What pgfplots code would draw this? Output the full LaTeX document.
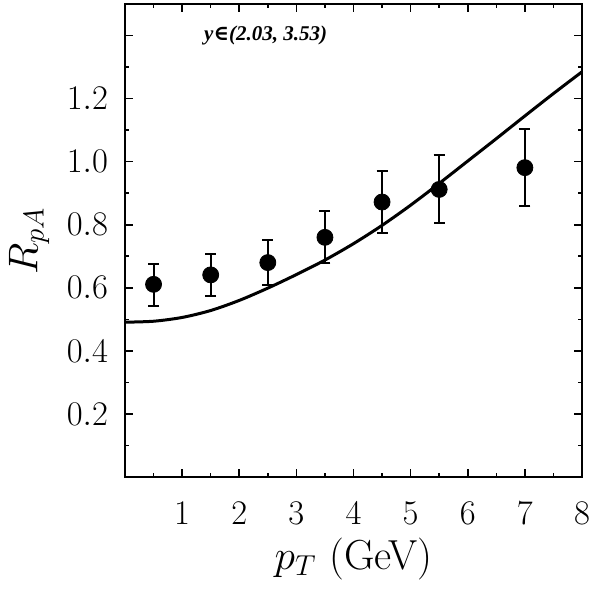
\documentclass[border=0pt]{standalone}
\usepackage{fontspec}
\usepackage{pgfplots}
\usepackage{pgfplotstable}
\pgfplotsset{compat=1.18}
\newfontfamily\annfont{Liberation Serif}
\newfontfamily\symfont{DejaVu Serif}

\pgfplotstableread{
x y ep em
0.5 0.611 0.066 0.068
1.5 0.641 0.067 0.068
2.5 0.680 0.072 0.072
3.5 0.760 0.085 0.082
4.5 0.872 0.097 0.097
5.5 0.912 0.108 0.107
7.0 0.981 0.123 0.121
}\datatable

\pgfplotstableread{
x y
0.0 0.491
0.5 0.494
1.0 0.506
1.5 0.528
2.0 0.560
2.5 0.599
3.0 0.642
3.5 0.688
4.0 0.740
4.5 0.798
5.0 0.862
5.5 0.931
6.0 1.002
6.5 1.073
7.0 1.145
7.5 1.216
8.0 1.285
}\curvetable

\begin{document}
\begin{tikzpicture}
\begin{axis}[
  name=ax,
  scale only axis,
  width=228.5pt, height=236.5pt,
  xmin=0, xmax=8, ymin=0, ymax=1.5,
  axis line style={line width=1pt},
  tick style={line width=0.8pt, black},
  tick align=inside,
  major tick length=4pt,
  minor tick length=2pt,
  xtick={1,2,3,4,5,6,7,8},
  minor xtick={0.5,1.5,2.5,3.5,4.5,5.5,6.5,7.5},
  ytick={0.2,0.4,0.6,0.8,1.0,1.2,1.4},
  yticklabels={$0.2$,$0.4$,$0.6$,$0.8$,$1.0$,$1.2$,},
  minor ytick={0.1,0.3,0.5,0.7,0.9,1.1,1.3},
  xticklabel style={font=\fontsize{16}{18}\selectfont, yshift=-9pt},
  yticklabel style={font=\fontsize{16}{18}\selectfont, xshift=-5pt},
  xlabel={$p_T$ (GeV)},
  ylabel={$R_{pA}$},
  label style={font=\fontsize{21}{24}\selectfont},
  xlabel style={yshift=0pt},
  ylabel style={yshift=2pt},
  clip=false,
]
\addplot[black, line width=1.5pt, smooth, tension=0.5] table[x=x, y=y] {\curvetable};
\addplot[only marks, mark=*, mark size=4pt, black,
  error bars/.cd, y dir=both, y explicit,
  error bar style={line width=1pt, black},
  error mark options={rotate=90, mark size=2.75pt, line width=1pt, black}]
  table[x=x, y=y, y error plus=ep, y error minus=em] {\datatable};
\node[anchor=west, inner sep=0pt, font=\annfont\bfseries\itshape\fontsize{10.5}{12}\selectfont]
  at (axis cs:1.38,1.40) {y{\symfont\bfseries\itshape ∈}(2.03, 3.53)};
\end{axis}
\pgfresetboundingbox
\path ([shift={(-62.5pt,-59pt)}]ax.south west) rectangle ([shift={(7pt,2pt)}]ax.north east);
\end{tikzpicture}
\end{document}
